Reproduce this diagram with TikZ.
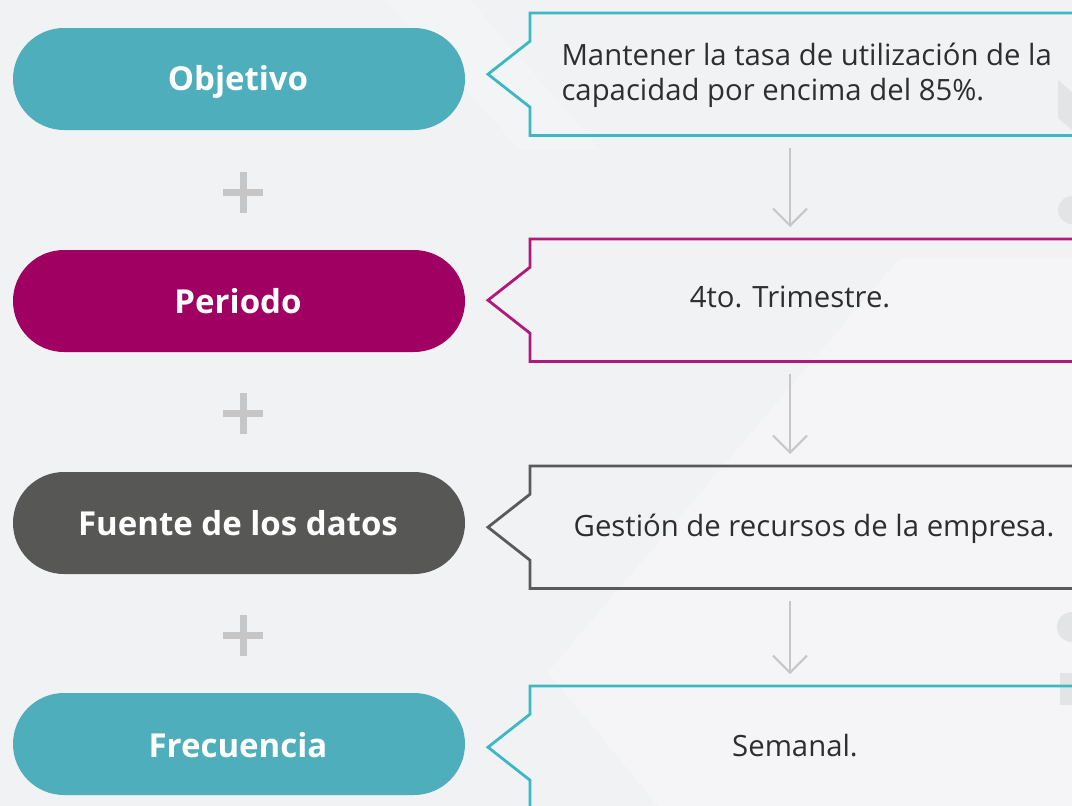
\documentclass[tikz,border=0pt]{standalone}
\usepackage{fontspec}
\setmainfont{Open Sans}
\usetikzlibrary{arrows.meta,calc}
\definecolor{bg}{HTML}{F1F2F4}
\definecolor{tealpill}{HTML}{4FAEBC}
\definecolor{tealline}{HTML}{3BB8C4}
\definecolor{magpill}{HTML}{A10063}
\definecolor{magline}{HTML}{B0187C}
\definecolor{graypill}{HTML}{575756}
\definecolor{grayline}{HTML}{5A5A5A}
\definecolor{txt}{HTML}{2E2E2E}
\definecolor{light}{HTML}{C6C6C6}
\definecolor{faint}{HTML}{E3E4E6}
\tikzset{
  pill/.style={rounded corners=51pt, minimum width=452pt, minimum height=102pt, inner sep=0pt, draw=none},
  pilltext/.style={font=\fontsize{33}{38}\selectfont\bfseries, text=white, anchor=base},
  boxarea/.style={minimum width=560pt, minimum height=122pt, inner sep=0pt, anchor=north west},
  boxtext/.style={font=\fontsize{29.3}{35}\selectfont, text=txt},
  outline/.style={line width=2.8pt, line join=miter},
  arr/.style={draw=light, line width=2pt, -{Straight Barb[length=17pt,width=34pt,line width=2pt]}, shorten <=13pt, shorten >=12pt},
  plus/.style={draw=light, line width=7pt}
}
\begin{document}
\begin{tikzpicture}[x=1pt,y=-1pt]
\useasboundingbox (0,0) rectangle (1072,806);
\clip (0,0) rectangle (1072,806);
\fill[bg] (0,0) rectangle (1072,806);
% faint background shapes
\fill[white,opacity=0.3] (548,672) -- (900,258) -- (1072,258) -- (1072,806) -- (658,806) -- cycle;
\fill[white,opacity=0.2] (385,0) -- (470,0) -- (600,150) -- (520,150) -- cycle;
\fill[faint] (1058,80) -- (1072,92) -- (1072,130) -- (1058,118) -- cycle;
\fill[faint] (1072,210) circle (14);
\fill[faint] (1072,627) circle (15);
\fill[faint] (1060,673) rectangle (1072,705);

% pills
\node[pill, fill=tealpill] (p1) at (239,79) {};
\node[pill, fill=magpill] (p2) at (239,301) {};
\node[pill, fill=graypill] (p3) at (239,523) {};
\node[pill, fill=tealpill] (p4) at (239,744) {};
\node[pilltext] (l1) at (238,90) {Objetivo};
\node[pilltext] (l2) at (238,313) {Periodo};
\node[pilltext] (l3) at (238,535) {Fuente de los datos};
\node[pilltext] (l4) at (238,757) {Frecuencia};

% plus signs
\draw[plus] (243,172) -- (243,213) (223,192) -- (263,192);
\draw[plus] (243,393) -- (243,434) (223,413) -- (263,413);
\draw[plus] (243,615) -- (243,656) (223,635) -- (263,635);

% boxes
\node[boxarea] (b1) at (530,13) {};
\node[boxarea] (b2) at (530,239) {};
\node[boxarea] (b3) at (530,466) {};
\node[boxarea] (b4) at (530,686) {};
\foreach \b/\c in {b1/tealline,b2/magline,b3/grayline,b4/tealline}{
  \draw[outline, draw=\c] (\b.west) ++(0,-33) -- (\b.north west) -- (\b.north east) -- (\b.south east) -- (\b.south west) -- ($(\b.west)+(0,33)$) -- ($(\b.west)+(-42,0)$) -- cycle;
}
\node[boxtext, anchor=base west] (t1a) at (558,65) {Mantener la tasa de utilización de la};
\node[boxtext, anchor=base west] (t1b) at (558,100) {capacidad por encima del 85\%.};
\node[boxtext, anchor=base] (t2) at (790,307) {4to. Trimestre.};
\node[boxtext, anchor=base] (t3) at (814,536) {Gestión de recursos de la empresa.};
\node[boxtext, anchor=base] (t4) at (795,756) {Semanal.};

% arrows
\coordinate (ax) at (790,0);
\draw[arr] (b1.south -| ax) -- (b2.north -| ax);
\draw[arr] (b2.south -| ax) -- (b3.north -| ax);
\draw[arr] (b3.south -| ax) -- (b4.north -| ax);
\end{tikzpicture}
\end{document}
